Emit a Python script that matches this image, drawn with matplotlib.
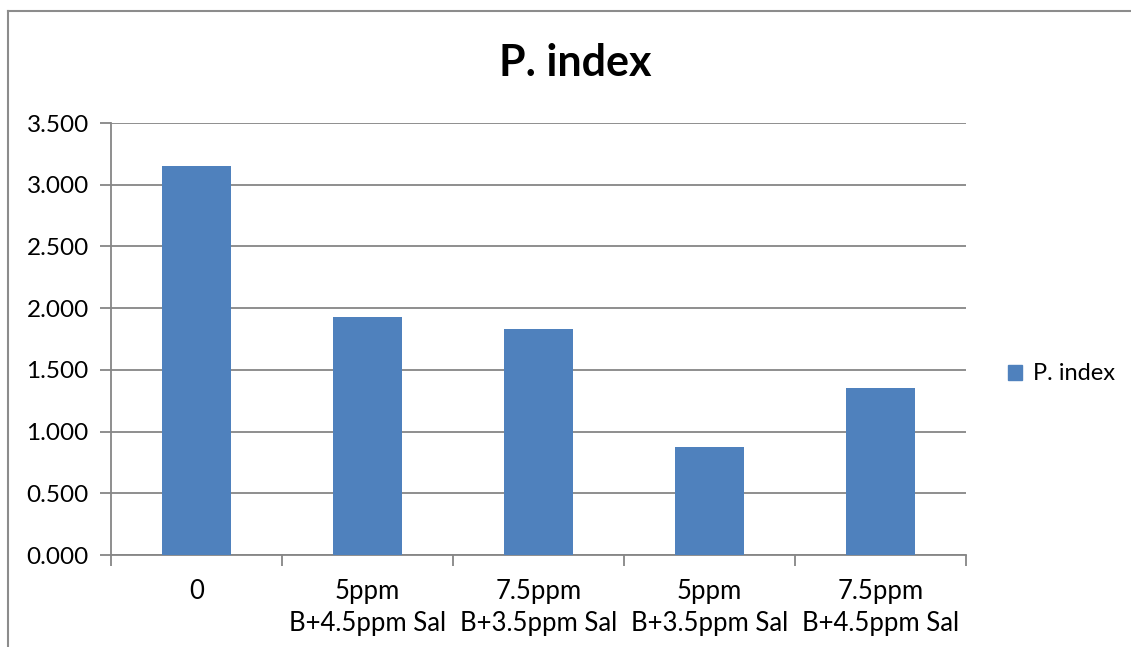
import matplotlib.pyplot as plt
from matplotlib.lines import Line2D
from matplotlib.patches import Patch

categorias = ['0', '5ppm\nB+4.5ppm Sal', '7.5ppm\nB+3.5ppm Sal',
              '5ppm\nB+3.5ppm Sal', '7.5ppm\nB+4.5ppm Sal']
p_index = [3.155, 1.925, 1.835, 0.878, 1.357]
yticks = [0.0, 0.5, 1.0, 1.5, 2.0, 2.5, 3.0, 3.5]

plt.rcParams['font.family'] = ['Lato', 'DejaVu Sans']
cinza = '#868686'
azul = '#4F81BD'
fs = 18.5

fig = plt.figure(figsize=(11.31, 6.47), dpi=100)
ax = fig.add_axes([111 / 1131, 1 - 555 / 647, 855 / 1131, 432 / 647])

x = list(range(len(categorias)))
ax.bar(x, p_index, width=0.4, color=azul, zorder=3)
ax.set_xlim(-0.5, len(categorias) - 0.5)
ax.set_ylim(0, 3.5)
ax.set_yticks(yticks)
ax.set_yticklabels([f'{v:.3f}' for v in yticks], fontsize=17.5)
ax.yaxis.grid(True, color=cinza, linewidth=1.3, zorder=0)

ax.set_xticks([i + 0.5 for i in range(-1, len(categorias))])
ax.set_xticklabels([])
ax.set_xticks(x, minor=True)
ax.set_xticklabels(categorias, minor=True, fontsize=fs, linespacing=1.38)
ax.tick_params(axis='x', which='minor', length=0, pad=17)
ax.tick_params(axis='x', which='major', length=8, color=cinza, width=1.3)
ax.tick_params(axis='y', length=8, color=cinza, width=1.3, pad=8)

for lado in ['top', 'right']:
    ax.spines[lado].set_visible(False)
for lado in ['left', 'bottom']:
    ax.spines[lado].set_color(cinza)
    ax.spines[lado].set_linewidth(1.3)

fig.text(575 / 1131, 1 - 63 / 647, 'P. index', fontsize=31, fontweight='bold',
         ha='center', va='center')

fig.legend(handles=[Patch(color=azul, label='P. index')], loc='center left',
           bbox_to_anchor=(989 / 1131, 1 - 374 / 647), frameon=False,
           fontsize=17, handlelength=0.6, handleheight=0.6, handletextpad=0.45,
           borderpad=0.3)

# moldura do gráfico (só esquerda e topo visíveis)
fig.add_artist(Line2D([8 / 1131, 8 / 1131], [0, 1 - 11 / 647], color='#8c8c8c',
                      linewidth=1.5, transform=fig.transFigure))
fig.add_artist(Line2D([8 / 1131, 1], [1 - 11 / 647, 1 - 11 / 647], color='#8c8c8c',
                      linewidth=1.5, transform=fig.transFigure))

fig.savefig('out.png', dpi=100)
